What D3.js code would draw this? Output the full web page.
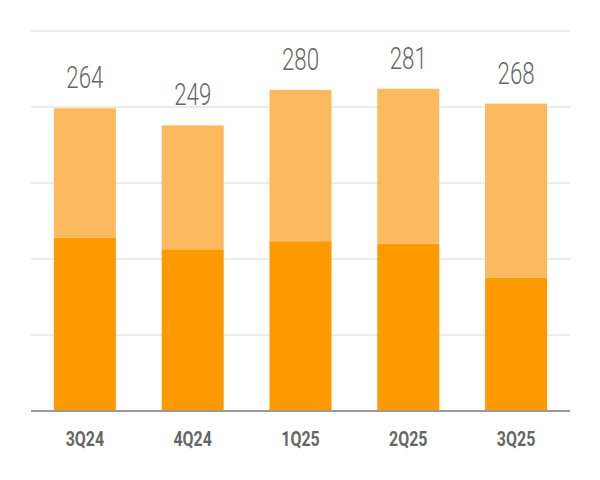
<!DOCTYPE html>
<html>
<head>
<meta charset="utf-8">
<script src="https://cdn.jsdelivr.net/npm/d3@7"></script>
<style>
  body { margin: 0; background: #fff; }
  svg { display: block; }
</style>
</head>
<body>
<svg id="s" width="600" height="480"></svg>
<script>
const quarters = ['3Q24', '4Q24', '1Q25', '2Q25', '3Q25'];
const lower = [151, 141, 148, 146, 116];
const upper = [113, 108, 132, 135, 152];
const totals = [264, 249, 280, 281, 268];

const settings = {
  left: 31,
  right: 570,
  top: 31,
  bottom: 411,
  yMax: 331.3,
  dark: '#ff9900',
  light: '#fdb95d',
};

const svg = d3.select('#s');

const x = d3.scaleBand()
  .domain(quarters)
  .range([settings.left, settings.right])
  .paddingInner(0.425)
  .paddingOuter(0.2125);

const y = d3.scaleLinear()
  .domain([0, settings.yMax])
  .range([settings.bottom, settings.top]);

// gridlines, five equal steps
const grid = d3.range(1, 6).map(i => settings.yMax * i / 5);
svg.append('g')
  .selectAll('line')
  .data(grid)
  .enter()
  .append('line')
  .attr('x1', settings.left)
  .attr('x2', settings.right)
  .attr('y1', d => y(d))
  .attr('y2', d => y(d))
  .attr('stroke', '#e4e4e4')
  .attr('stroke-width', 1.5);

const rows = quarters.map((q, i) => ({ q, lo: lower[i], hi: upper[i], total: totals[i] }));

const bars = svg.append('g');
bars.selectAll('rect.lo')
  .data(rows)
  .enter()
  .append('rect')
  .attr('class', 'lo')
  .attr('x', d => x(d.q))
  .attr('width', x.bandwidth())
  .attr('y', d => y(d.lo))
  .attr('height', d => y(0) - y(d.lo))
  .attr('fill', settings.dark);

bars.selectAll('rect.hi')
  .data(rows)
  .enter()
  .append('rect')
  .attr('class', 'hi')
  .attr('x', d => x(d.q))
  .attr('width', x.bandwidth())
  .attr('y', d => y(d.lo + d.hi))
  .attr('height', d => y(d.lo) - y(d.lo + d.hi))
  .attr('fill', settings.light);

// baseline
svg.append('line')
  .attr('x1', settings.left)
  .attr('x2', settings.right)
  .attr('y1', y(0))
  .attr('y2', y(0))
  .attr('stroke', '#9a9a9a')
  .attr('stroke-width', 2);

// totals above bars, narrowed to look condensed
svg.append('g')
  .selectAll('text')
  .data(rows)
  .enter()
  .append('text')
  .attr('transform', d => `translate(${x(d.q) + x.bandwidth() / 2},${y(d.total) - 20}) scale(0.72,1)`)
  .attr('text-anchor', 'middle')
  .attr('font-family', 'Roboto')
  .attr('font-weight', 300)
  .attr('font-size', 31)
  .attr('fill', '#666')
  .text(d => d.total);

svg.append('g')
  .selectAll('text')
  .data(quarters)
  .enter()
  .append('text')
  .attr('transform', d => `translate(${x(d) + x.bandwidth() / 2},446) scale(0.76,1)`)
  .attr('text-anchor', 'middle')
  .attr('font-family', 'Roboto')
  .attr('font-weight', 700)
  .attr('font-size', 21)
  .attr('fill', '#666')
  .text(d => d);
</script>
</body>
</html>
